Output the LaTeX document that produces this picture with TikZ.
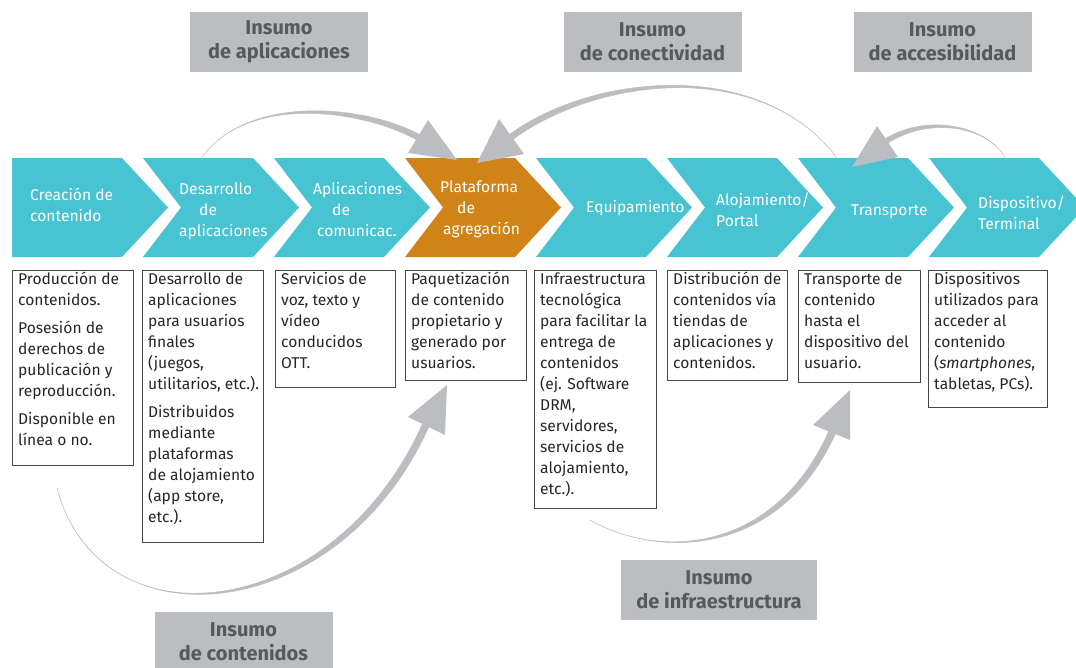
\documentclass[tikz,border=0pt]{standalone}
\usepackage{fontspec}
\setmainfont{Fira Sans}
\usetikzlibrary{calc}
\definecolor{chev}{RGB}{72,195,210}
\definecolor{chevor}{RGB}{208,132,24}
\definecolor{lblfill}{RGB}{188,189,192}
\definecolor{lbltext}{RGB}{88,89,91}
\definecolor{arrowgrey}{RGB}{188,189,192}
\definecolor{boxline}{RGB}{70,70,70}
\newcommand\chevronshape[2]{%
  \fill[#2] (#1,158) -- ++(110,0) -- ++(46,49.5) -- ++(-46,49.5) -- ++(-110,0) -- ++(38,-49.5) -- cycle;}
\newcommand\taperarrow[5]{%
  \filldraw[taper] (#1) .. controls (#2) and ($(#3)!#5!-90:(#4)$) .. ($(#4)!#5!90:(#3)$)
   -- ($(#4)!#5!-90:(#3)$) .. controls ($(#3)!#5!90:(#4)$) and (#2) .. (#1) -- cycle;}
\begin{document}
\begin{tikzpicture}[x=1pt,y=-1pt,
  chevtext/.style={text=white, font=\fontsize{15.6}{21}\selectfont, align=left, inner sep=0, anchor=north west},
  desctext/.style={text=black!85, font=\fontsize{15.6}{21}\selectfont, align=left, inner sep=0, anchor=north west},
  descbox/.style={draw=boxline, line width=0.8pt, anchor=north west, inner sep=0},
  lbl/.style={fill=lblfill, text=lbltext, font=\bfseries\fontsize{20}{24}\selectfont, align=center, minimum width=178pt, minimum height=60pt, inner sep=0},
  taper/.style={fill=arrowgrey, draw=arrowgrey, line width=0.5pt, line join=round},
  head/.style={fill=arrowgrey}]
\useasboundingbox (0,0) rectangle (1076,667);

% chevrons
\fill[chev] (12,158) -- ++(110,0) -- ++(46,49.5) -- ++(-46,49.5) -- ++(-110,0) -- cycle;
\chevronshape{143}{chev}
\chevronshape{274}{chev}
\chevronshape{405}{chevor}
\chevronshape{536}{chev}
\chevronshape{667}{chev}
\chevronshape{798}{chev}
\chevronshape{929}{chev}

% chevron texts
\node[chevtext] (c1) at (30,185.3) {\strut Creación de\\contenido};
\node[chevtext] (c2) at (179,179.3) {\strut Desarrollo\\\hspace*{20pt}de\\aplicaciones};
\node[chevtext] (c3) at (313,179.3) {\strut Aplicaciones\\\hspace*{19pt}de\\\hspace*{4pt}comunicac.};
\node[chevtext] (c4) at (440,177.3) {\strut Plataforma\\\hspace*{17pt}de\\\hspace*{3pt}agregación};
\node[chevtext] (c5) at (586,197.3) {\strut Equipamiento};
\node[chevtext] (c6) at (716,190.3) {\strut Alojamiento/\\Portal};
\node[chevtext] (c7) at (851,200.3) {\strut Transporte};
\node[chevtext] (c8) at (978,193.3) {\strut Dispositivo/\\Terminal};

% description boxes
\node[descbox, minimum width=121pt, minimum height=195pt] (d1) at (12,270) {};
\node[descbox, minimum width=121pt, minimum height=272pt] (d2) at (142,270) {};
\node[descbox, minimum width=120pt, minimum height=117pt] (d3) at (275,270) {};
\node[descbox, minimum width=121pt, minimum height=110pt] (d4) at (405,270) {};
\node[descbox, minimum width=122pt, minimum height=238pt] (d5) at (534,270) {};
\node[descbox, minimum width=120pt, minimum height=110pt] (d6) at (667,270) {};
\node[descbox, minimum width=122pt, minimum height=112pt] (d7) at (798,270) {};
\node[descbox, minimum width=119pt, minimum height=137pt] (d8) at (928,270) {};

\node[desctext] (t1) at ($(d1.north west)+(6,0)$) {\strut Producción de\\contenidos.\\[7pt]Posesión de\\derechos de\\publicación y\\reproducción.\\[7pt]Disponible en\\línea o no.};
\node[desctext] (t2) at ($(d2.north west)+(6,0)$) {\strut Desarrollo de\\aplicaciones\\para usuarios\\finales\\(juegos,\\utilitarios, etc.).\\[7pt]Distribuidos\\mediante\\plataformas\\de alojamiento\\(app store,\\etc.).};
\node[desctext] (t3) at ($(d3.north west)+(6,0)$) {\strut Servicios de\\voz, texto y\\vídeo\\conducidos\\OTT.};
\node[desctext] (t4) at ($(d4.north west)+(6,0)$) {\strut Paquetización\\de contenido\\propietario y\\generado por\\usuarios.};
\node[desctext] (t5) at ($(d5.north west)+(6,0)$) {\strut Infraestructura\\tecnológica\\para facilitar la\\entrega de\\contenidos\\(ej. Software\\DRM,\\servidores,\\servicios de\\alojamiento,\\etc.).};
\node[desctext] (t6) at ($(d6.north west)+(6,0)$) {\strut Distribución de\\contenidos vía\\tiendas de\\aplicaciones y\\contenidos.};
\node[desctext] (t7) at ($(d7.north west)+(6,0)$) {\strut Transporte de\\contenido\\hasta el\\dispositivo del\\usuario.};
\node[desctext] (t8) at ($(d8.north west)+(6,0)$) {\strut Dispositivos\\utilizados para\\acceder al\\contenido\\(\textit{smartphones},\\tabletas, PCs).};

% labels
\node[lbl] (l1) at (279,42) {Insumo\\de aplicaciones};
\node[lbl] (l2) at (652.5,42) {Insumo\\de conectividad};
\node[lbl] (l3) at (942.5,42) {Insumo\\de accesibilidad};
\node[lbl] (l4) at (243.5,642) {Insumo\\de contenidos};
\node[lbl, minimum width=196pt] (l5) at (719,589.5) {Insumo\\de infraestructura};

% arrow: aplicaciones
\coordinate (a1s) at (202,157); \coordinate (a1c1) at (250,92);
\coordinate (a1c2) at (370,108); \coordinate (a1j) at (423,140);
\taperarrow{a1s}{a1c1}{a1c2}{a1j}{3pt}
\coordinate (a1t) at (457,160); \coordinate (a1u) at (428,120); \coordinate (a1v) at (408,153);
\fill[head] (a1t) -- (a1u) -- (a1v) -- cycle;

% arrow: conectividad
\coordinate (a2s) at (838,159); \coordinate (a2c1) at (760,55);
\coordinate (a2c2) at (590,76); \coordinate (a2j) at (507,140);
\taperarrow{a2s}{a2c1}{a2c2}{a2j}{3pt}
\coordinate (a2t) at (477,163); \coordinate (a2u) at (499,119); \coordinate (a2v) at (524,154);
\fill[head] (a2t) -- (a2u) -- (a2v) -- cycle;

% arrow: accesibilidad
\coordinate (a3s) at (1007,161); \coordinate (a3c1) at (990,125);
\coordinate (a3c2) at (925,113); \coordinate (a3j) at (882,144);
\taperarrow{a3s}{a3c1}{a3c2}{a3j}{2.5pt}
\coordinate (a3t) at (852,167); \coordinate (a3u) at (877,126); \coordinate (a3v) at (898,157);
\fill[head] (a3t) -- (a3u) -- (a3v) -- cycle;

% arrow: contenidos
\coordinate (a4s) at (57,488); \coordinate (a4c1) at (100,650);
\coordinate (a4c2) at (340,625); \coordinate (a4j) at (428,420);
\taperarrow{a4s}{a4c1}{a4c2}{a4j}{3.5pt}
\coordinate (a4t) at (447,385); \coordinate (a4u) at (408,417); \coordinate (a4v) at (445,435);
\fill[head] (a4t) -- (a4u) -- (a4v) -- cycle;

% arrow: infraestructura
\coordinate (a5s) at (590,520); \coordinate (a5c1) at (660,560);
\coordinate (a5c2) at (780,555); \coordinate (a5j) at (834,428);
\taperarrow{a5s}{a5c1}{a5c2}{a5j}{3.5pt}
\coordinate (a5t) at (850,390); \coordinate (a5u) at (813,425); \coordinate (a5v) at (850,440);
\fill[head] (a5t) -- (a5u) -- (a5v) -- cycle;
\end{tikzpicture}
\end{document}
